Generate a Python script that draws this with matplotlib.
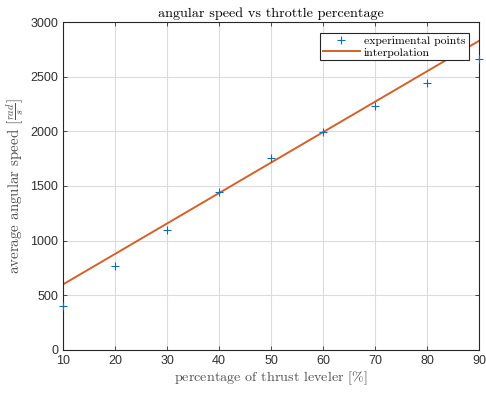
import numpy as np
import matplotlib
matplotlib.use('Agg')
import matplotlib.pyplot as plt

# measured data
throttle = [10, 20, 30, 40, 50, 60, 70, 80, 90]
speed = [405, 768, 1100, 1447, 1752, 1995, 2230, 2445, 2666]

# interpolation line endpoints
fit_x = [10, 90]
fit_y = [600, 2828]

plt.rcParams['mathtext.fontset'] = 'cm'
plt.rcParams['axes.unicode_minus'] = False

fig = plt.figure(figsize=(4.86, 3.94), dpi=100)
ax = fig.add_axes([0.13, 0.112, 0.8556, 0.832])

ax.plot(throttle, speed, '+', color='#0072BD', markersize=6, markeredgewidth=0.8,
        label='experimental points', zorder=3, clip_on=False)
ax.plot(fit_x, fit_y, '-', color='#D4602A', linewidth=1.4, label='interpolation', zorder=2)

ax.set_xlim(10, 90)
ax.set_ylim(0, 3000)
ax.set_xticks(np.arange(10, 91, 10))
ax.set_yticks(np.arange(0, 3001, 500))
ax.grid(True, color='#dcdcdc', linewidth=0.8)
ax.set_axisbelow(True)
ax.tick_params(direction='in', top=True, right=True, length=3, width=0.6,
               colors='#303030', labelsize=9)
for lbl in ax.get_xticklabels() + ax.get_yticklabels():
    lbl.set_fontfamily('Liberation Sans')
for sp in ax.spines.values():
    sp.set_color('#262626')
    sp.set_linewidth(0.8)

ax.set_title('angular speed vs throttle percentage', fontfamily='cmr10', fontsize=10.2, pad=4)
ax.set_xlabel(r'percentage of thrust leveler $[\%]$', fontfamily='cmr10', fontsize=10.2,
              color='#505050', labelpad=2)
ax.set_ylabel(r'average angular speed $\left[\frac{rad}{s}\right]$', fontfamily='cmr10',
              fontsize=10.8, color='#505050', labelpad=3)

leg = ax.legend(loc='upper right', prop={'family': 'cmr10', 'size': 8.4}, fancybox=False,
                framealpha=1, edgecolor='#262626', borderpad=0.25, handlelength=3.2,
                labelspacing=0.15, borderaxespad=0.9, handletextpad=0.35)
leg.get_frame().set_linewidth(0.8)

fig.savefig('out.png', dpi=100)
